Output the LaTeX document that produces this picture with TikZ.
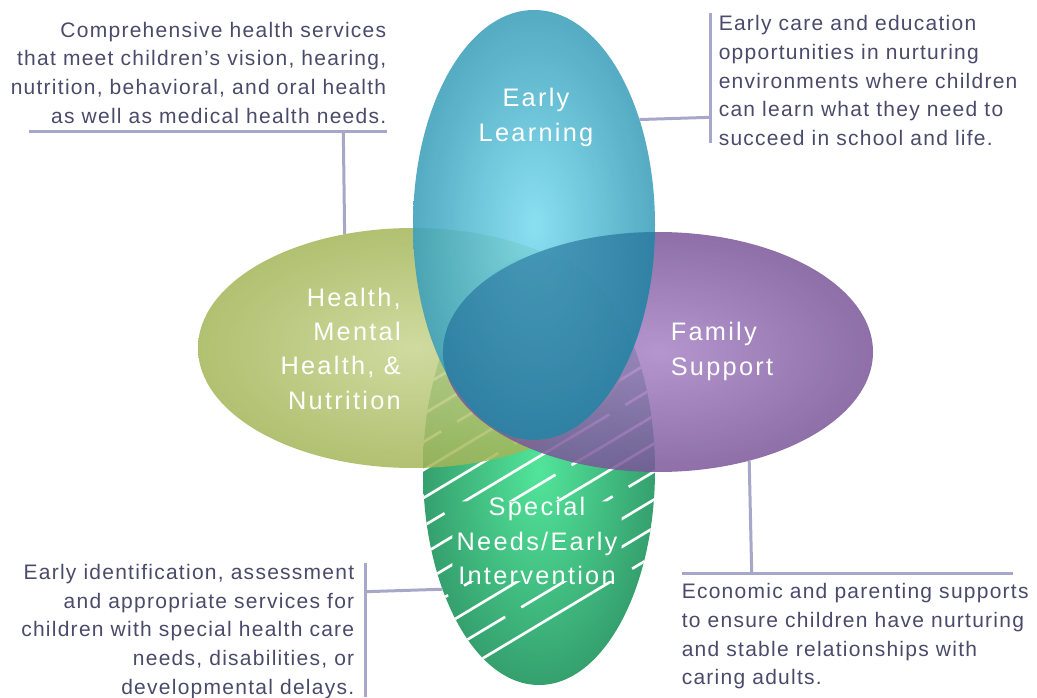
\documentclass[tikz,border=0pt]{standalone}
\usepackage{fontspec}
\setmainfont{Liberation Sans}
\newfontfamily\notefont[LetterSpace=6]{Liberation Sans}
\newfontfamily\areafont[LetterSpace=9]{Liberation Sans}
\usetikzlibrary{shapes.geometric}

\definecolor{learnlo}{HTML}{3C9FBA}
\definecolor{learnhi}{HTML}{7ADCEF}
\definecolor{healthlo}{HTML}{A4B558}
\definecolor{healthhi}{HTML}{C7D48F}
\definecolor{familylo}{HTML}{7A5699}
\definecolor{familyhi}{HTML}{A883C6}
\definecolor{speciallo}{HTML}{35A06E}
\definecolor{specialhi}{HTML}{52E59A}
\definecolor{midblue}{HTML}{1F6F95}
\definecolor{notetext}{HTML}{4A4A6A}
\definecolor{rulecol}{HTML}{A7A7C9}

\begin{document}
\begin{tikzpicture}[x=0.75pt,y=0.75pt,yscale=-1,xscale=1,
  area/.style={ellipse,inner sep=0pt,outer sep=0pt,shade},
  wide/.style={area,minimum width=322.5pt,minimum height=180pt},
  areaname/.style={font=\areafont\fontsize{19}{25.8}\selectfont,text=white,inner sep=0pt},
  note/.style={font=\notefont\fontsize{15.75}{21.5}\selectfont,text=notetext,inner sep=0pt},
  rule/.style={draw=rulecol,line width=2.25pt},
  stripe/.style={draw=white,line width=2pt,dash pattern=on 130pt off 14pt}
]
\useasboundingbox (0,0) rectangle (1037,698);

%Shape: Ellipse, bottom
\node [area,minimum width=174pt,minimum height=322.5pt,inner color=specialhi,outer color=speciallo] (special) at (539,470) {};
% Text Node
\node [areaname,align=center,anchor=north] (specialname) at (537,497.3) {Special\\Needs/Early\\Intervention};
%Hatching on the bottom ellipse, kept off the text
\begin{scope}[even odd rule]
\clip (539,470) ellipse [x radius=116,y radius=215]
  ([xshift=-3pt,yshift=3pt]specialname.north west) rectangle ([xshift=3pt,yshift=-3pt]specialname.south east);
\foreach \k in {0,...,11}
  \draw [stripe,dash phase=\k*47pt] (400,{400+\k*28}) -- +(300,-180);
\end{scope}

%Shape: Ellipse, left
\node [wide,inner color=healthhi,outer color=healthlo,fill opacity=0.85] (health) at (413,348) {};
%Shape: Ellipse, right
\node [wide,inner color=familyhi,outer color=familylo,fill opacity=0.85] (family) at (658,352) {};
%Shape: Ellipse, top
\node [area,minimum width=181.5pt,minimum height=322.5pt,inner color=learnhi,outer color=learnlo,fill opacity=0.88] (learn) at (534,225) {};
%darker where top and right overlap
\begin{scope}
\clip (534,225) ellipse [x radius=121,y radius=215];
\fill [midblue,fill opacity=0.55] (658,352) ellipse [x radius=215,y radius=120];
\end{scope}

% Text Node
\node [areaname,align=center,anchor=north] (learnname) at (536,88.3) {Early\\Learning};
% Text Node
\node [areaname,align=right,anchor=north east] (healthname) at (401,287.5) {Health,\\Mental\\Health, \&\\Nutrition};
% Text Node
\node [areaname,align=left,anchor=north west] (familyname) at (670.5,322.3) {Family\\Support};

% Text Node
\node [note,align=right,anchor=north east] (healthnote) at (386.5,21.7) {Comprehensive health services\\that meet children’s vision, hearing,\\nutrition, behavioral, and oral health\\as well as medical health needs.};
% Text Node
\node [note,align=left,anchor=north west] (learnnote) at (718.5,15.3) {Early care and education\\opportunities in nurturing\\environments where children\\can learn what they need to\\succeed in school and life.};
% Text Node
\node [note,align=right,anchor=north east] (specialnote) at (354.5,564) {Early identification, assessment\\and appropriate services for\\children with special health care\\needs, disabilities, or\\developmental delays.};
% Text Node
\node [note,align=left,anchor=north west] (familynote) at (681.5,583.2) {Economic and parenting supports\\to ensure children have nurturing\\and stable relationships with\\caring adults.};

%Straight Lines
\coordinate (hrule_l) at (29.3,131.7);
\coordinate (hrule_r) at (386.7,131.7);
\coordinate (hfoot) at (343.3,131.7);
\draw [rule] (hrule_l) -- (hrule_r);
\draw [rule] (hfoot) -- (health.121.55);
%Straight Lines
\coordinate (lrule_t) at (710.7,13.3);
\coordinate (lrule_b) at (710.7,143.3);
\coordinate (lfoot) at (710.7,117.3);
\draw [rule] (lrule_t) -- (lrule_b);
\draw [rule] (learn.45.8) -- (lfoot);
%Straight Lines
\coordinate (srule_t) at (365.7,563);
\coordinate (srule_b) at (365.7,697);
\coordinate (sfoot) at (365.7,591.7);
\draw [rule] (srule_t) -- (srule_b);
\draw [rule] (sfoot) -- (special.231.85);
%Straight Lines
\coordinate (frule_l) at (681.7,573.3);
\coordinate (frule_r) at (1013.3,573.3);
\coordinate (ffoot) at (751.7,573.3);
\draw [rule] (frule_l) -- (frule_r);
\draw [rule] (family.310.95) -- (ffoot);

\end{tikzpicture}
\end{document}
